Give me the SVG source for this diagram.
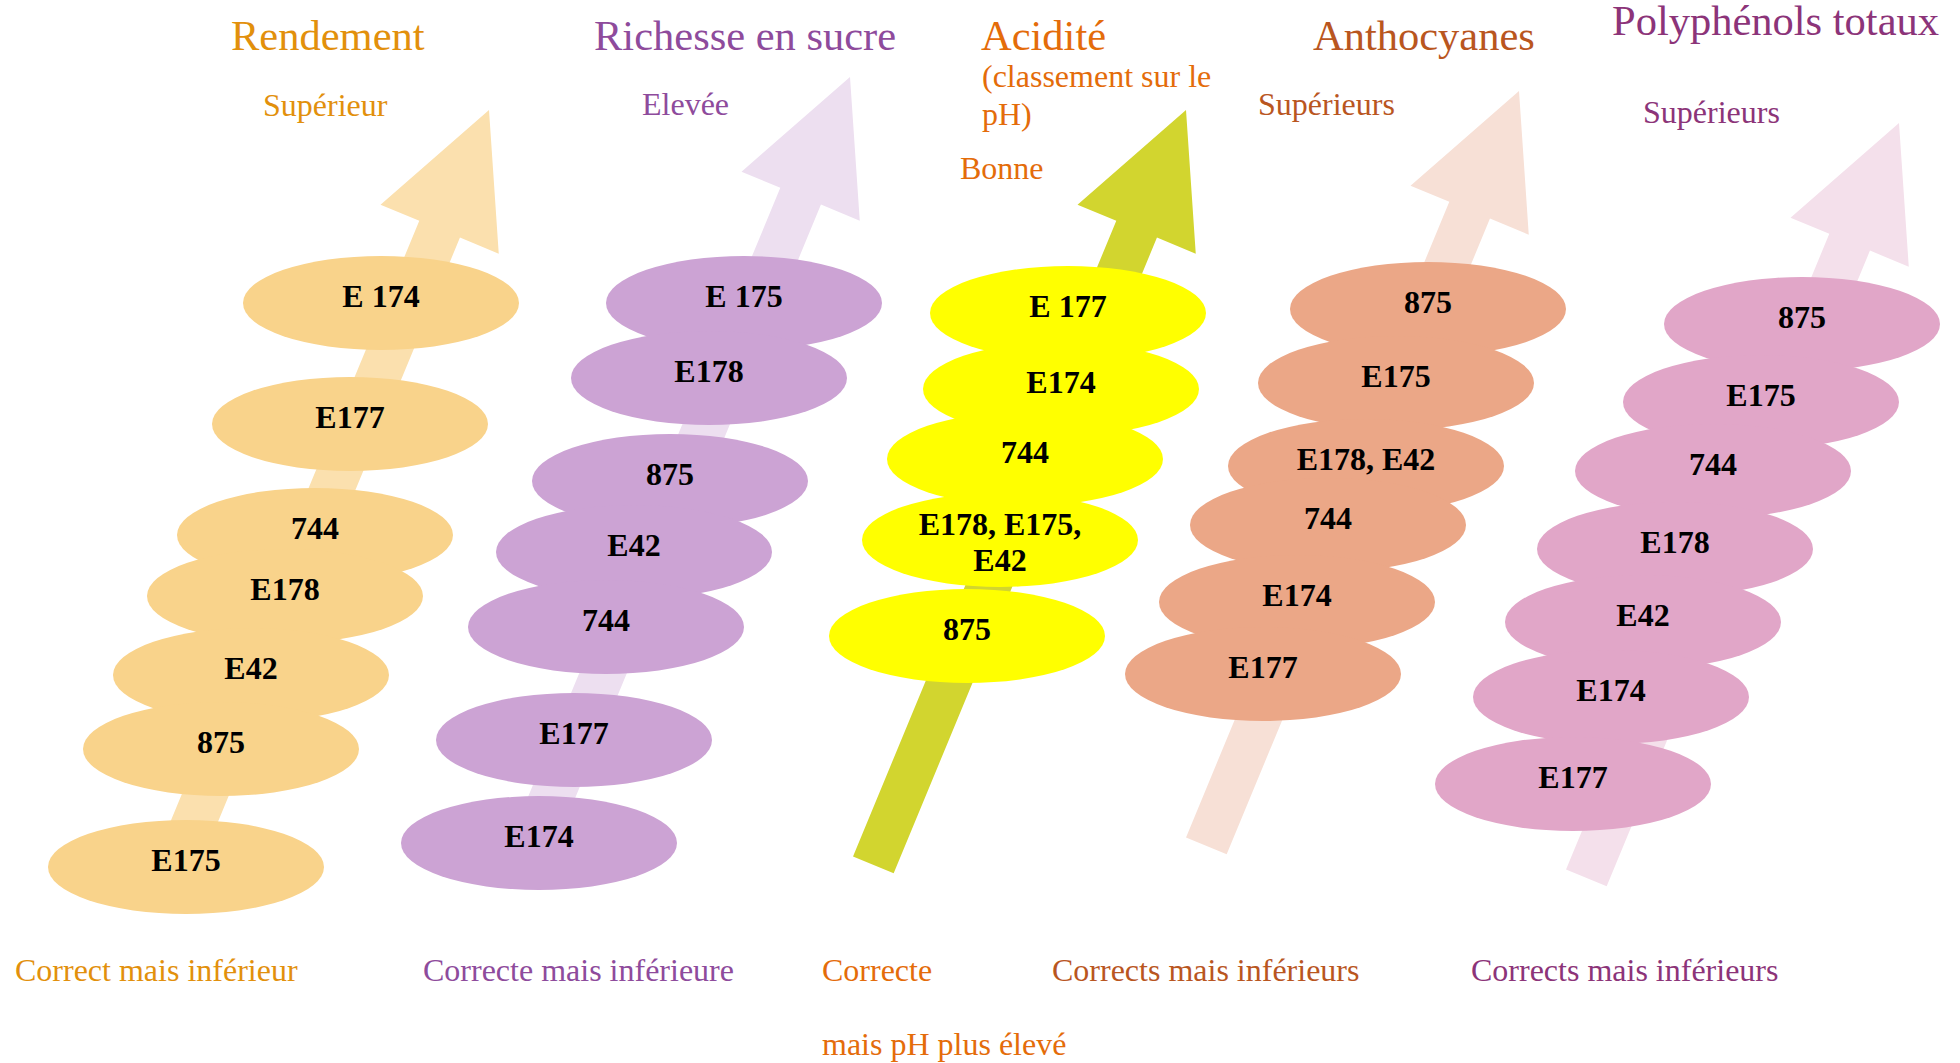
<svg xmlns="http://www.w3.org/2000/svg" width="1960" height="1063" viewBox="0 0 1960 1063">
<style>
text{font-family:"Liberation Serif","Times New Roman",serif}
.ti{font-size:42.5px}
.sb{font-size:32px}
.lb{font-size:32px;font-weight:bold;text-anchor:middle;fill:#000}
.c1{fill:#E2900C}.c2{fill:#8E4B9C}.c3{fill:#E46C0A}.c4{fill:#B9561F}.c5{fill:#8C3479}
.e1{fill:#F9D38B}.e2{fill:#CCA3D4}.e3{fill:#FFFF00}.e4{fill:#EBA787}.e5{fill:#E1A6C8}
.a1{fill:#FBE0AE}.a2{fill:#EDDFF0}.a3{fill:#D2D52F}.a4{fill:#F7E0D6}.a5{fill:#F4E0EB}
</style>
<defs>
<polygon id="arw" points="0,0 64,129 22,129 22,817 -22,817 -22,129 -64,129"/>
</defs>
<rect width="1960" height="1063" fill="#fff"/>
<g id="connectors">
<use href="#arw" class="a1" transform="translate(489,110) rotate(22.5)"/>
<use href="#arw" class="a2" transform="translate(850,77) rotate(22.5)"/>
<use href="#arw" class="a3" transform="translate(1186,110) rotate(22.5)"/>
<use href="#arw" class="a4" transform="translate(1519,91) rotate(22.5)"/>
<use href="#arw" class="a5" transform="translate(1899,123) rotate(22.5)"/>
</g>
<g id="labels">
<text class="ti c1" x="231" y="50">Rendement</text>
<text class="sb c1" x="263" y="116">Supérieur</text>
<text class="ti c2" x="594" y="50">Richesse en sucre</text>
<text class="sb c2" x="642" y="115">Elevée</text>
<text class="ti c3" x="981" y="50">Acidité</text>
<text class="sb c3" x="982" y="87">(classement sur le</text>
<text class="sb c3" x="982" y="125">pH)</text>
<text class="sb c3" x="960" y="179">Bonne</text>
<text class="ti c4" x="1313" y="50">Anthocyanes</text>
<text class="sb c4" x="1258" y="115">Supérieurs</text>
<text class="ti c5" x="1612" y="35">Polyphénols totaux</text>
<text class="sb c5" x="1643" y="123">Supérieurs</text>
<text class="sb c1" x="15" y="981">Correct mais inférieur</text>
<text class="sb c2" x="423" y="981">Correcte mais inférieure</text>
<text class="sb c3" x="822" y="981">Correcte</text>
<text class="sb c3" x="822" y="1055">mais pH plus élevé</text>
<text class="sb c4" x="1052" y="981">Corrects mais inférieurs</text>
<text class="sb c5" x="1471" y="981">Corrects mais inférieurs</text>
</g>
<g id="rendement">
<g id="r-e174"><ellipse class="e1" cx="381" cy="303" rx="138" ry="47"/><text class="lb" x="381" y="307">E 174</text></g>
<g id="r-e177"><ellipse class="e1" cx="350" cy="424" rx="138" ry="47"/><text class="lb" x="350" y="428">E177</text></g>
<g id="r-744"><ellipse class="e1" cx="315" cy="535" rx="138" ry="47"/><text class="lb" x="315" y="539">744</text></g>
<g id="r-e178"><ellipse class="e1" cx="285" cy="596" rx="138" ry="47"/><text class="lb" x="285" y="600">E178</text></g>
<g id="r-e42"><ellipse class="e1" cx="251" cy="675" rx="138" ry="47"/><text class="lb" x="251" y="679">E42</text></g>
<g id="r-875"><ellipse class="e1" cx="221" cy="749" rx="138" ry="47"/><text class="lb" x="221" y="753">875</text></g>
<g id="r-e175"><ellipse class="e1" cx="186" cy="867" rx="138" ry="47"/><text class="lb" x="186" y="871">E175</text></g>
</g>
<g id="richesse">
<g id="s-e175"><ellipse class="e2" cx="744" cy="303" rx="138" ry="47"/><text class="lb" x="744" y="307">E 175</text></g>
<g id="s-e178"><ellipse class="e2" cx="709" cy="378" rx="138" ry="47"/><text class="lb" x="709" y="382">E178</text></g>
<g id="s-875"><ellipse class="e2" cx="670" cy="481" rx="138" ry="47"/><text class="lb" x="670" y="485">875</text></g>
<g id="s-e42"><ellipse class="e2" cx="634" cy="552" rx="138" ry="47"/><text class="lb" x="634" y="556">E42</text></g>
<g id="s-744"><ellipse class="e2" cx="606" cy="627" rx="138" ry="47"/><text class="lb" x="606" y="631">744</text></g>
<g id="s-e177"><ellipse class="e2" cx="574" cy="740" rx="138" ry="47"/><text class="lb" x="574" y="744">E177</text></g>
<g id="s-e174"><ellipse class="e2" cx="539" cy="843" rx="138" ry="47"/><text class="lb" x="539" y="847">E174</text></g>
</g>
<g id="acidite">
<g id="a-e177"><ellipse class="e3" cx="1068" cy="313" rx="138" ry="47"/><text class="lb" x="1068" y="317">E 177</text></g>
<g id="a-e174"><ellipse class="e3" cx="1061" cy="389" rx="138" ry="47"/><text class="lb" x="1061" y="393">E174</text></g>
<g id="a-744"><ellipse class="e3" cx="1025" cy="459" rx="138" ry="47"/><text class="lb" x="1025" y="463">744</text></g>
<g id="a-e178-e175-e42"><ellipse class="e3" cx="1000" cy="540" rx="138" ry="47"/><text class="lb" x="1000" y="535">E178, E175,</text><text class="lb" x="1000" y="571">E42</text></g>
<g id="a-875"><ellipse class="e3" cx="967" cy="636" rx="138" ry="47"/><text class="lb" x="967" y="640">875</text></g>
</g>
<g id="anthocyanes">
<g id="h-875"><ellipse class="e4" cx="1428" cy="309" rx="138" ry="47"/><text class="lb" x="1428" y="313">875</text></g>
<g id="h-e175"><ellipse class="e4" cx="1396" cy="383" rx="138" ry="47"/><text class="lb" x="1396" y="387">E175</text></g>
<g id="h-e178-e42"><ellipse class="e4" cx="1366" cy="466" rx="138" ry="47"/><text class="lb" x="1366" y="470">E178, E42</text></g>
<g id="h-744"><ellipse class="e4" cx="1328" cy="525" rx="138" ry="47"/><text class="lb" x="1328" y="529">744</text></g>
<g id="h-e174"><ellipse class="e4" cx="1297" cy="602" rx="138" ry="47"/><text class="lb" x="1297" y="606">E174</text></g>
<g id="h-e177"><ellipse class="e4" cx="1263" cy="674" rx="138" ry="47"/><text class="lb" x="1263" y="678">E177</text></g>
</g>
<g id="polyphenols">
<g id="p-875"><ellipse class="e5" cx="1802" cy="324" rx="138" ry="47"/><text class="lb" x="1802" y="328">875</text></g>
<g id="p-e175"><ellipse class="e5" cx="1761" cy="402" rx="138" ry="47"/><text class="lb" x="1761" y="406">E175</text></g>
<g id="p-744"><ellipse class="e5" cx="1713" cy="471" rx="138" ry="47"/><text class="lb" x="1713" y="475">744</text></g>
<g id="p-e178"><ellipse class="e5" cx="1675" cy="549" rx="138" ry="47"/><text class="lb" x="1675" y="553">E178</text></g>
<g id="p-e42"><ellipse class="e5" cx="1643" cy="622" rx="138" ry="47"/><text class="lb" x="1643" y="626">E42</text></g>
<g id="p-e174"><ellipse class="e5" cx="1611" cy="697" rx="138" ry="47"/><text class="lb" x="1611" y="701">E174</text></g>
<g id="p-e177"><ellipse class="e5" cx="1573" cy="784" rx="138" ry="47"/><text class="lb" x="1573" y="788">E177</text></g>
</g>
</svg>
